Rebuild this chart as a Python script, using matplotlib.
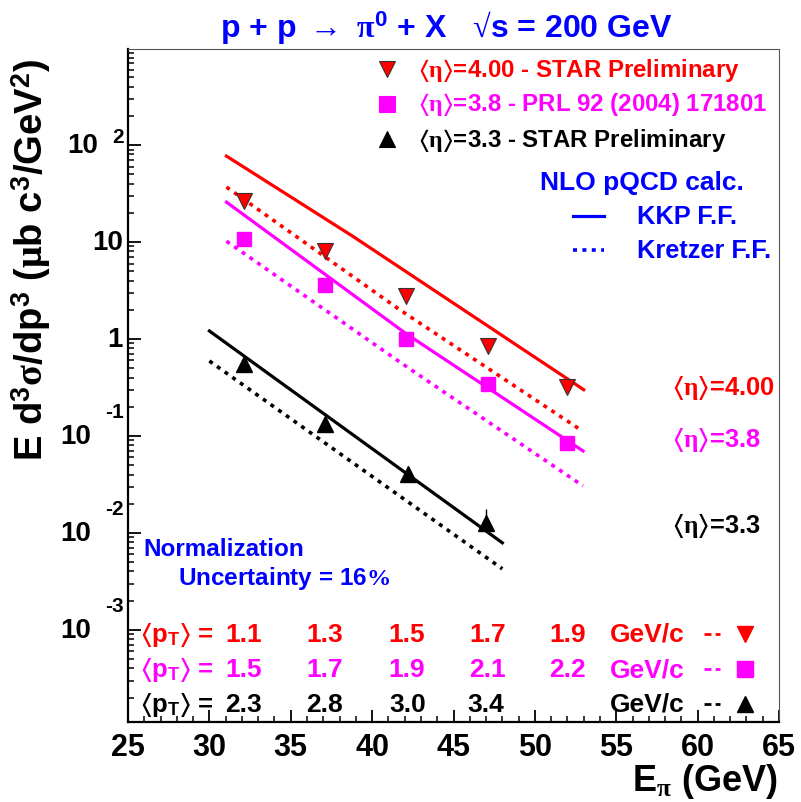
import numpy as np
import matplotlib
matplotlib.use("Agg")
import matplotlib.pyplot as plt
from matplotlib.ticker import MultipleLocator, LogLocator, NullFormatter

plt.rcParams['font.family'] = ['Liberation Sans', 'DejaVu Sans']
plt.rcParams['font.weight'] = 'bold'
plt.rcParams['mathtext.fontset'] = 'custom'
plt.rcParams['mathtext.rm'] = 'Liberation Sans:bold'
plt.rcParams['mathtext.bf'] = 'Liberation Sans:bold'
plt.rcParams['mathtext.it'] = 'Liberation Serif'
plt.rcParams['mathtext.sf'] = 'Liberation Serif'
plt.rcParams['mathtext.fallback'] = 'stix'

# ---- data ----
# <eta> = 4.00, STAR preliminary
e400 = [32.1, 37.1, 42.1, 47.1, 52.0]
y400 = [26.5, 8.1, 2.77, 0.85, 0.32]
err400 = [1.5, 0.5, 0.18, 0.06, 0.03]
pt400 = ['1.1', '1.3', '1.5', '1.7', '1.9']
# <eta> = 3.8, PRL 92 (2004) 171801
e38 = [32.1, 37.1, 42.1, 47.1, 52.0]
y38 = [10.7, 3.6, 1.0, 0.343, 0.0847]
err38 = [1.0, 0.3, 0.08, 0.03, 0.012]
pt38 = ['1.5', '1.7', '1.9', '2.1', '2.2']
# <eta> = 3.3, STAR preliminary
e33 = [32.1, 37.1, 42.2, 47.0]
y33 = [0.552, 0.133, 0.0406, 0.0127]
err33_lo = [0.03, 0.008, 0.003, 0.0025]
err33_hi = [0.03, 0.008, 0.003, 0.005]
pt33 = ['2.3', '2.8', '3.0', '3.4']

# NLO pQCD curves
kkp400_x = [31.05, 38.8, 53.0]
kkp400_y = [77.0, 11.5, 0.30]
kre400_x = [31.05, 41.7, 52.9]
kre400_y = [36.9, 2.0, 0.113]
kkp38_x = [31.05, 42.1, 52.96]
kkp38_y = [25.8, 1.13, 0.070]
kre38_x = [31.05, 42.1, 52.96]
kre38_y = [10.2, 0.52, 0.0305]
kkp33_x = [30.0, 48.0]
kkp33_y = [1.21, 0.0079]
kre33_x = [30.0, 48.0]
kre33_y = [0.593, 0.00426]

RED = '#ff0000'
MAG = '#ff00ff'
BLUE = '#0000ff'
DOT = (0, (1.1, 1.5))

W, H = 801, 803
fig = plt.figure(figsize=(W / 100, H / 100), dpi=100)
L, R, T, B = 128, 779, 50, 723
ax = fig.add_axes([L / W, 1 - B / H, (R - L) / W, (B - T) / H])


def axc(x, y):
    # pixel position -> axes fraction
    return (x - L) / (R - L), (B - y) / (B - T)


ax.set_xlim(25, 65)
ax.set_yscale('log')
ax.set_ylim(1.12e-4, 980)

# curves
ax.plot(kkp400_x, kkp400_y, color=RED, lw=2.3)
ax.plot(kre400_x, kre400_y, color=RED, lw=2.6, ls=DOT)
ax.plot(kkp38_x, kkp38_y, color=MAG, lw=2.3)
ax.plot(kre38_x, kre38_y, color=MAG, lw=2.6, ls=DOT)
ax.plot(kkp33_x, kkp33_y, color='black', lw=2.3)
ax.plot(kre33_x, kre33_y, color='black', lw=2.6, ls=DOT)

# data points
ax.errorbar(e400, y400, yerr=err400, fmt='v', color=RED, mec='#333333', mew=0.8,
            ms=11, ecolor='black', elinewidth=1, capsize=0)
ax.errorbar(e38, y38, yerr=err38, fmt='s', color=MAG, mec=MAG, ms=10.5,
            ecolor='black', elinewidth=1, capsize=0)
ax.errorbar(e33, y33, yerr=[err33_lo, err33_hi], fmt='^', color='black', ms=11,
            ecolor='black', elinewidth=1, capsize=0)

# axes style
for s in ['left', 'bottom']:
    ax.spines[s].set_linewidth(1.6)
for s in ['top', 'right']:
    ax.spines[s].set_linewidth(0.8)
    ax.spines[s].set_color('#555555')
ax.xaxis.set_major_locator(MultipleLocator(5))
ax.xaxis.set_minor_locator(MultipleLocator(1))
ax.yaxis.set_major_locator(LogLocator(base=10, numticks=20))
ax.yaxis.set_minor_locator(LogLocator(base=10, subs=np.arange(2, 10), numticks=20))
ax.yaxis.set_major_formatter(NullFormatter())
ax.yaxis.set_minor_formatter(NullFormatter())
ax.tick_params(which='major', direction='in', length=9, width=1.3, top=False, right=False)
ax.tick_params(which='minor', direction='in', length=4.5, width=1.1, top=False, right=False)
ax.tick_params(axis='x', labelsize=22, pad=7)
for lab in ax.get_xticklabels():
    lab.set_fontweight('bold')

# y tick labels in ROOT style
bt = ax.get_yaxis_transform()
ax.text(-5 / (R - L), 1, '1', transform=bt, ha='right', va='center', fontsize=20, fontweight='bold')
ax.text(-5 / (R - L), 10, '10', transform=bt, ha='right', va='center', fontsize=20, fontweight='bold')
ax.text(-30 / (R - L), 100, '10', transform=bt, ha='right', va='center', fontsize=20, fontweight='bold')
ax.text(-4 / (R - L), 100 * 10 ** (9 / 97), '2', transform=bt, ha='right', va='center',
        fontsize=15, fontweight='bold')
for k in [-1, -2, -3]:
    ax.text(-37 / (R - L), 10.0 ** k, '10', transform=bt, ha='right', va='center',
            fontsize=20, fontweight='bold')
    ax.text(-4 / (R - L), 10.0 ** k * 10 ** (24 / 97), str(k), transform=bt, ha='right',
            va='center', fontsize=15, fontweight='bold')

# titles
fig.text(446 / W, 1 - 28 / H,
         'p + p $\\mathsf{\\rightarrow}$ $\\pi^{0}$ + X   $\\mathsf{\u221a}$s = 200 GeV',
         ha='center', va='center', fontsize=23, color=BLUE, fontweight='bold')
fig.text(31 / W, 1 - 260 / H,
         r'E d$^{3}\sigma$/dp$^{3}$ ($\mu$b c$^{3}$/GeV$^{2}$)',
         rotation=90, ha='center', va='center', fontsize=27.5, fontweight='bold')
fig.text(778 / W, 1 - 782 / H, r'E$_{\pi}$ (GeV)', ha='right', va='center',
         fontsize=26, fontweight='bold')

# legend
legend_rows = [('v', RED, r'$\langle\eta\rangle$=4.00 - STAR Preliminary', 70),
               ('s', MAG, r'$\langle\eta\rangle$=3.8 - PRL 92 (2004) 171801', 105),
               ('^', 'black', r'$\langle\eta\rangle$=3.3 - STAR Preliminary', 140)]
for m, c, txt, yp in legend_rows:
    x0, y0 = axc(387, yp)
    ax.plot([x0], [y0], marker=m, color=c, ms=11, mec='#333333' if m == 'v' else c,
            mew=0.8, transform=ax.transAxes, clip_on=False)
    x1, y1 = axc(418, yp)
    ax.text(x1, y1, txt, transform=ax.transAxes, ha='left', va='center', color=c,
            fontsize=17.3, fontweight='bold')

x0, y0 = axc(540, 183)
ax.text(x0, y0, 'NLO pQCD calc.', transform=ax.transAxes, ha='left', va='center',
        color=BLUE, fontsize=19, fontweight='bold')
for ls, lw, txt, yp in [('-', 2.3, 'KKP F.F.', 217), (DOT, 2.6, 'Kretzer F.F.', 251)]:
    xa, ya = axc(573, yp)
    xb, _ = axc(604, yp)
    ax.plot([xa, xb], [ya, ya], color=BLUE, lw=lw, ls=ls, transform=ax.transAxes, clip_on=False)
    xt, yt = axc(637, yp)
    ax.text(xt, yt, txt, transform=ax.transAxes, ha='left', va='center', color=BLUE,
            fontsize=18.3, fontweight='bold')

# eta labels at right
for txt, c, yp in [(r'$\langle\eta\rangle$=4.00', RED, 388),
                   (r'$\langle\eta\rangle$=3.8', MAG, 440),
                   (r'$\langle\eta\rangle$=3.3', 'black', 526)]:
    xt, yt = axc(672, yp)
    ax.text(xt, yt, txt, transform=ax.transAxes, ha='left', va='center', color=c,
            fontsize=18.4, fontweight='bold')

# normalization text
xt, yt = axc(143, 550)
ax.text(xt, yt, 'Normalization', transform=ax.transAxes, ha='left', va='center',
        color=BLUE, fontsize=17.5, fontweight='bold')
xt, yt = axc(178, 579)
ax.text(xt, yt, r'Uncertainty = 16$\mathsf{\%}$', transform=ax.transAxes, ha='left',
        va='center', color=BLUE, fontsize=17.5, fontweight='bold')

# <pT> rows
bx = ax.get_xaxis_transform()
pt_rows = [(e400, pt400, RED, 'v', 635), (e38, pt38, MAG, 's', 670),
           (e33, pt33, 'black', '^', 705)]
for xs, labs, c, m, yp in pt_rows:
    _, yf = axc(0, yp)
    xt, _ = axc(140, yp)
    ax.text(xt, yf, r'$\langle\mathbf{p}_{\mathbf{T}}\rangle$ =', transform=ax.transAxes,
            ha='left', va='center', color=c, fontsize=18.5, fontweight='bold')
    for xv, lab in zip(xs, labs):
        ax.text(xv, yf, lab, transform=bx, ha='center', va='center', color=c,
                fontsize=19, fontweight='bold')
    xt, _ = axc(610, yp)
    ax.text(xt, yf, 'GeV/c', transform=ax.transAxes, ha='left', va='center', color=c,
            fontsize=19, fontweight='bold')
    xa, _ = axc(704, yp)
    xb, _ = axc(720, yp)
    ax.plot([xa, xb], [yf, yf], color=c, lw=2, ls=(0, (2.5, 1.5)), transform=ax.transAxes,
            clip_on=False)
    xm, _ = axc(745, yp)
    ax.plot([xm], [yf], marker=m, color=c, ms=11, mec=c, transform=ax.transAxes, clip_on=False)

fig.savefig('out.png', dpi=100)
